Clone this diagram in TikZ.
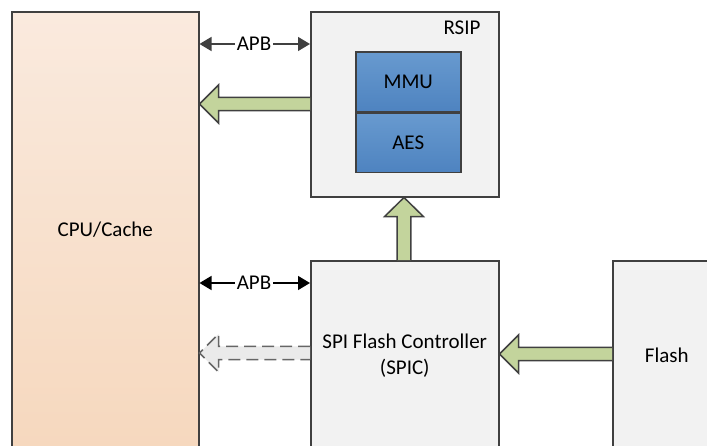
\documentclass[tikz,border=0pt]{standalone}
\usepackage{fontspec}
\setmainfont{Carlito}
\usetikzlibrary{arrows.meta,calc}

\definecolor{edgegray}{RGB}{64,64,64}
\definecolor{cputop}{RGB}{250,234,222}
\definecolor{cpubot}{RGB}{246,216,190}
\definecolor{boxgray}{RGB}{242,242,242}
\definecolor{bluetop}{RGB}{104,154,207}
\definecolor{bluebot}{RGB}{78,131,192}
\definecolor{arrowgreen}{RGB}{195,212,156}
\definecolor{ghostgray}{RGB}{234,234,234}

\newcommand{\arrowleft}[3][]{%
  \draw[blockarrow,#1] let \p1=(#2), \p2=(#3) in
    (\x1,\y1+3.3pt) -- (\x2+9.5pt,\y1+3.3pt) -- (\x2+9.5pt,\y1+9.5pt) -- (\x2,\y1)
    -- (\x2+9.5pt,\y1-9.5pt) -- (\x2+9.5pt,\y1-3.3pt) -- (\x1,\y1-3.3pt);}
\newcommand{\arrowup}[3][]{%
  \draw[blockarrow,#1] let \p1=(#2), \p2=(#3) in
    (\x1-3.4pt,\y1) -- (\x1-3.4pt,\y2-9.5pt) -- (\x1-9.7pt,\y2-9.5pt) -- (\x1,\y2)
    -- (\x1+9.7pt,\y2-9.5pt) -- (\x1+3.4pt,\y2-9.5pt) -- (\x1+3.4pt,\y1);}

\begin{document}
\begin{tikzpicture}[x=0.5pt,y=-0.5pt,
  every node/.style={font=\fontsize{10.5}{12.6}\selectfont},
  box/.style={draw=edgegray,line width=0.75pt,anchor=north west,inner sep=0pt},
  unit/.style={draw=edgegray,line width=0.75pt,inner sep=0pt,minimum width=52.5pt,
    top color=bluetop,bottom color=bluebot},
  apb/.style={line width=0.75pt,{Triangle[length=6pt,width=7pt]}-{Triangle[length=6pt,width=7pt]}},
  apblabel/.style={fill=white,inner sep=1pt},
  blockarrow/.style={draw=edgegray,line width=0.75pt,fill=arrowgreen,line join=miter}]
\useasboundingbox (0,0) rectangle (707,445);
\clip (0,0) rectangle (707,445);

\node[box,minimum width=93.5pt,minimum height=218pt,top color=cputop,bottom color=cpubot]
  (cpu) at (11,11) {CPU/Cache};
\node[box,minimum width=94pt,minimum height=92.5pt,fill=boxgray] (rsip) at (310,11) {};
\node (rsiplbl) at (462,28) {RSIP};
\node[unit,minimum height=30pt,anchor=north west] (mmu) at (355,51) {MMU};
\node[unit,minimum height=29.5pt,anchor=north] (aes) at (mmu.south) {AES};
\node[box,minimum width=94pt,minimum height=95pt,fill=boxgray,align=center]
  (spic) at (310,260) {SPI Flash Controller\\(SPIC)};
\node[box,minimum width=54pt,minimum height=95pt,fill=boxgray] (flash) at (612,260) {Flash};

\coordinate (apb1) at (254,44);
\coordinate (apb2) at (254,283);
\draw[apb,edgegray] (apb1 -| cpu.east) -- (apb1 -| rsip.west);
\node[apblabel,text=black] at (apb1) {APB};
\draw[apb,black] (apb2 -| cpu.east) -- (apb2 -| spic.west);
\node[apblabel] at (apb2) {APB};

\coordinate (g1) at (0,104);
\coordinate (g2) at (404,0);
\coordinate (g3) at (0,354);
\coordinate (g4) at (0,353);
\arrowleft{g1 -| rsip.west}{g1 -| cpu.east}
\arrowup{g2 |- spic.north}{g2 |- rsip.south}
\arrowleft{g3 -| flash.west}{g3 -| spic.east}
\arrowleft[dashed,dash pattern=on 6pt off 3pt,fill=ghostgray,draw=edgegray!80]{g4 -| spic.west}{g4 -| cpu.east}
\end{tikzpicture}
\end{document}
